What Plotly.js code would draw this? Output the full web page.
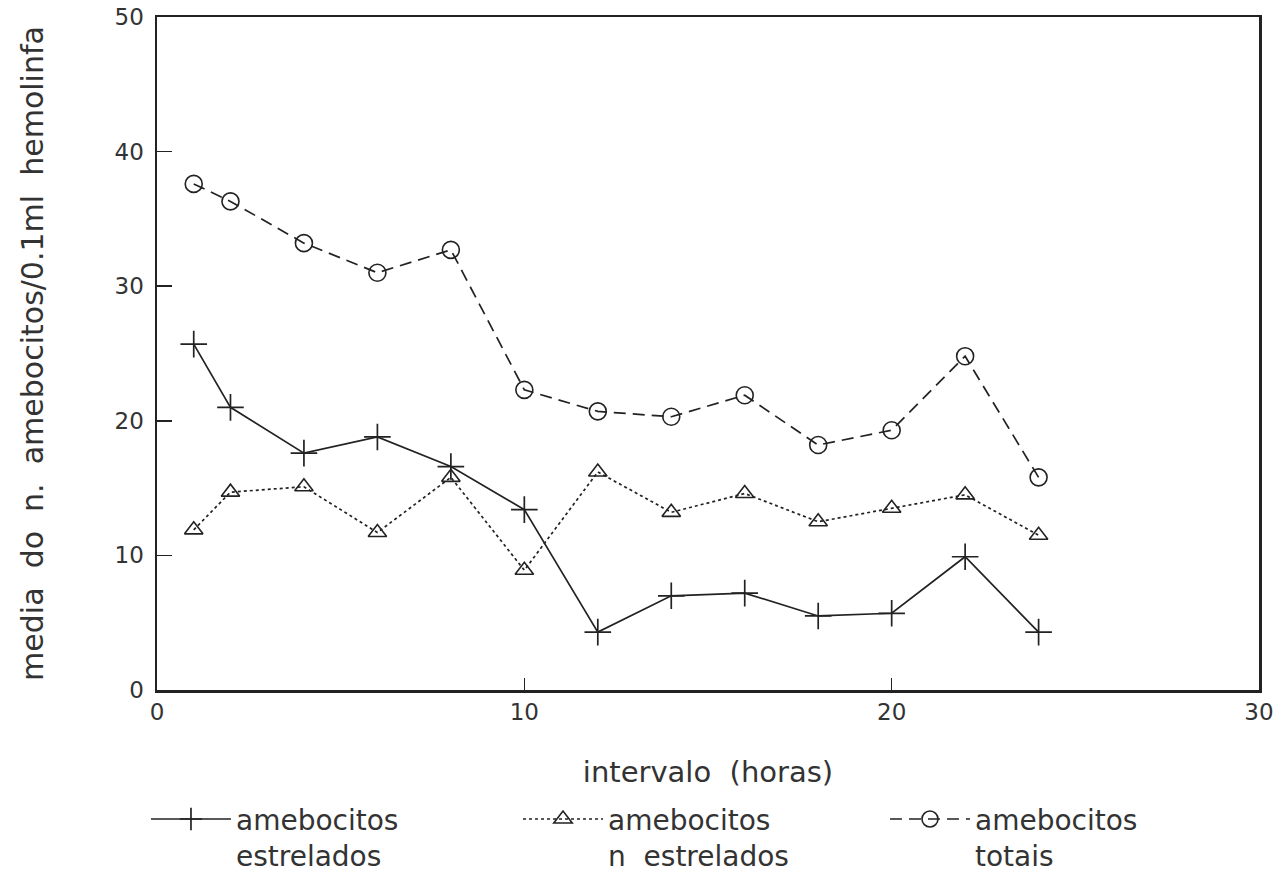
<!DOCTYPE html>
<html><head><meta charset="utf-8">
<script src="https://cdn.plot.ly/plotly-3.0.1.min.js"></script>
<style>html,body{margin:0;padding:0;background:#fff}#chart{width:1279px;height:878px}</style>
</head><body><div id="chart"></div>
<script>
const hours = [1, 2, 4, 6, 8, 10, 12, 14, 16, 18, 20, 22, 24];
const estrelados = [25.7, 21.0, 17.6, 18.8, 16.6, 13.4, 4.3, 7.0, 7.2, 5.5, 5.7, 9.9, 4.3];
const nEstrelados = [11.9, 14.7, 15.1, 11.7, 15.8, 8.9, 16.2, 13.2, 14.6, 12.5, 13.5, 14.5, 11.5];
const totais = [37.6, 36.3, 33.2, 31.0, 32.7, 22.3, 20.7, 20.3, 21.9, 18.2, 19.3, 24.8, 15.8];
const seriesNames = ["amebocitos<br>estrelados", "amebocitos<br>n  estrelados", "amebocitos<br>totais"];
const xTicks = [0, 10, 20, 30];
const yTicks = [0, 10, 20, 30, 40, 50];

const ink = '#222';
const txt = '#333';
const traces = [
  {x: hours, y: estrelados, name: seriesNames[0], mode: 'lines+markers', legend: 'legend',
   line: {color: ink, width: 1.7, dash: 'solid'},
   marker: {symbol: 'cross-thin-open', size: 19, color: ink, line: {color: ink, width: 1.7}}},
  {x: hours, y: nEstrelados, name: seriesNames[1], mode: 'lines+markers', legend: 'legend2',
   line: {color: ink, width: 1.7, dash: 'dot'},
   marker: {symbol: 'triangle-up-open', size: 16, color: ink, line: {color: ink, width: 1.6}}},
  {x: hours, y: totais, name: seriesNames[2], mode: 'lines+markers', legend: 'legend3',
   line: {color: ink, width: 1.7, dash: '12px,7px'},
   marker: {symbol: 'circle-open', size: 17, color: ink, line: {color: ink, width: 1.6}}}
];

function leg(x) {
  return {orientation: 'v', x: x, xanchor: 'left', y: -0.155, yanchor: 'top',
          itemwidth: 80, valign: 'top', bgcolor: 'rgba(0,0,0,0)',
          font: {size: 28, color: txt}};
}

const layout = {
  width: 1279, height: 878,
  margin: {l: 157, r: 20, t: 17, b: 188, autoexpand: false},
  paper_bgcolor: '#fff', plot_bgcolor: '#fff',
  font: {family: 'DejaVu Sans, sans-serif', color: txt, size: 23},
  showlegend: true,
  legend: leg(-0.01),
  legend2: leg(0.3276),
  legend3: leg(0.6606),
  xaxis: {range: [0, 30], tickvals: xTicks, ticktext: xTicks.map(String),
          showgrid: false, zeroline: false, showline: true, linecolor: ink, linewidth: 2.5,
          mirror: true, ticks: 'inside', ticklen: 12, tickwidth: 1.5, tickcolor: ink,
          tickfont: {size: 23, color: txt},
          title: {text: 'intervalo  (horas)', font: {size: 29, color: txt}, standoff: 38}},
  yaxis: {range: [0, 50], tickvals: yTicks, ticktext: yTicks.map(String),
          showgrid: false, zeroline: false, showline: true, linecolor: ink, linewidth: 2.5,
          mirror: true, ticks: 'inside', ticklen: 15, tickwidth: 1.5, tickcolor: ink,
          ticklabelstandoff: 6,
          tickfont: {size: 23, color: txt},
          title: {text: 'media  do  n.  amebocitos/0.1ml  hemolinfa', font: {size: 30, color: txt}, standoff: 62}}
};
Plotly.newPlot('chart', traces, layout, {displayModeBar: false, staticPlot: true});
</script></body></html>
